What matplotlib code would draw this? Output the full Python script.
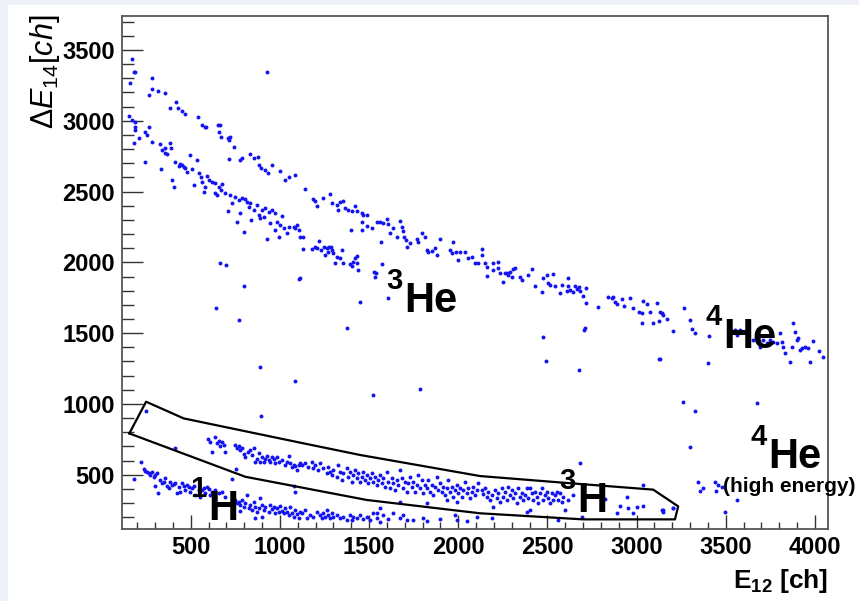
import numpy as np
import matplotlib.pyplot as plt
from matplotlib.patches import Rectangle

plt.rcParams['font.family'] = 'Liberation Sans'
plt.rcParams['mathtext.fontset'] = 'custom'
plt.rcParams['mathtext.rm'] = 'Liberation Sans'
plt.rcParams['mathtext.it'] = 'Liberation Sans:italic'
plt.rcParams['mathtext.bf'] = 'Liberation Sans:bold'

# E12 / dE14 pairs, in channels
he4_band = np.array([
    (171, 3433), (180, 3346), (190, 3342), (162, 3264), (283, 3304), (264, 3182), (283, 3222),
    (317, 3210), (354, 3193), (420, 3135), (386, 3087), (429, 3087), (451, 3069), (470, 3047),
    (541, 3024), (563, 2970), (578, 2953), (586, 2958), (651, 2970), (666, 2970), (657, 2923),
    (672, 2887), (709, 2876), (722, 2887), (713, 2864), (743, 2812), (713, 2732), (778, 2723),
    (787, 2734), (830, 2765), (853, 2734), (877, 2746), (885, 2687), (896, 2664), (918, 2652),
    (933, 2628), (956, 2685), (1002, 2645), (1030, 2581), (1053, 2600), (1083, 2617),
    (1141, 2516), (1188, 2446), (1197, 2436), (1210, 2399), (1244, 2453), (1281, 2483),
    (1290, 2417), (1318, 2406), (1328, 2370), (1337, 2429), (1352, 2436), (1365, 2382),
    (1384, 2370), (1403, 2366), (1421, 2399), (1431, 2366), (1459, 2351), (1468, 2335),
    (1487, 2335), (1459, 2288), (1487, 2257), (1515, 2241), (1543, 2288), (1561, 2288),
    (1580, 2281), (1599, 2304), (1608, 2271), (1617, 2210), (1636, 2241), (1673, 2295),
    (1683, 2253), (1688, 2224), (1696, 2177), (1655, 2182), (1707, 2158), (1715, 2111),
    (1729, 2140), (1767, 2163), (1776, 2147), (1795, 2210), (1814, 2177), (1832, 2076),
    (1823, 2088), (1851, 2083), (1870, 2100), (1879, 2052), (1898, 2163), (1954, 2088),
    (1963, 2064), (1972, 2147), (1987, 2076), (2000, 2017), (2010, 2076), (2038, 2076),
    (2056, 2029), (2075, 2041), (2094, 1994), (2112, 1998),
    (2131, 2092), (2131, 2052), (2150, 1994), (2159, 1965), (2163, 1904), (2197, 1994),
    (2197, 1947), (2225, 2005), (2225, 1958), (2234, 1928), (2253, 1864), (2262, 1923),
    (2271, 1928), (2281, 1911), (2290, 1935), (2299, 1899), (2309, 1951), (2318, 1958),
    (2346, 1899), (2356, 1876), (2393, 1911), (2412, 1951), (2430, 1834), (2468, 1793),
    (2477, 1888), (2496, 1911), (2505, 1852), (2514, 1841), (2533, 1918), (2542, 1834),
    (2570, 1786), (2580, 1841), (2608, 1801), (2617, 1888), (2617, 1834), (2626, 1805),
    (2645, 1793), (2654, 1834), (2664, 1810), (2679, 1824), (2682, 1801), (2701, 1763),
    (2716, 1817), (2716, 1716), (2785, 1683), (2841, 1758), (2860, 1746), (2869, 1758),
    (2879, 1723), (2888, 1706), (2916, 1739), (2929, 1692), (2963, 1746), (2981, 1676),
    (3015, 1652), (3028, 1645), (3037, 1730), (3056, 1706), (3075, 1652), (3112, 1716),
    (3028, 1575), (3090, 1575), (3127, 1589),
    (3131, 1651), (3140, 1640), (3150, 1628), (3172, 1597), (3202, 1517), (3266, 1675),
    (3299, 1593), (3308, 1527), (3327, 1498), (3407, 1480), (3551, 1522), (3561, 1487),
    (3691, 1404), (3710, 1451), (3729, 1428), (3747, 1451), (3766, 1440), (3785, 1428),
    (3803, 1498), (3813, 1440), (3822, 1404), (3831, 1362), (3860, 1298), (3869, 1404),
    (3878, 1574), (3888, 1510), (3897, 1451), (3906, 1463), (3916, 1381), (3925, 1392),
    (3944, 1404), (3962, 1392), (3972, 1298), (3990, 1447), (4024, 1376), (4046, 1334),
    (3654, 1451), (3617, 1487), (3579, 1522),
])

he3_band = np.array([
    (156, 3033), (171, 3005), (186, 2993), (190, 2953), (186, 2934), (180, 2845), (208, 2880),
    (242, 2923), (255, 2899), (264, 2958), (283, 2852), (242, 2711), (330, 2836), (339, 2793),
    (354, 2805), (358, 2774), (367, 2765), (386, 2845), (391, 2805), (335, 2657), (395, 2581),
    (405, 2530), (414, 2706), (433, 2680), (442, 2694), (451, 2687), (461, 2675), (470, 2664),
    (479, 2640), (494, 2758), (507, 2657), (517, 2546), (535, 2723), (545, 2628), (560, 2605),
    (563, 2570), (573, 2499), (582, 2534), (591, 2610), (604, 2581), (619, 2570), (634, 2558),
    (638, 2492), (647, 2475), (657, 2534), (675, 2553), (672, 2511), (694, 2487), (709, 2365),
    (722, 2475), (731, 2417), (750, 2464), (759, 2287), (769, 2440), (778, 2346), (787, 2452),
    (797, 2216), (806, 2445), (816, 2428), (825, 2393), (834, 2417), (840, 2299), (853, 2370),
    (872, 2405), (881, 2334), (890, 2311), (900, 2370), (909, 2322), (918, 2381), (928, 2162),
    (937, 2358), (946, 2275), (956, 2370), (974, 2346), (984, 2287), (974, 2228), (993, 2181),
    (1002, 2264), (1012, 2327), (1021, 2240), (1040, 2205), (1049, 2252), (1077, 2252),
    (1086, 2240), (1096, 2264), (1105, 2228), (1114, 2181),
    (1128, 2177), (1132, 2093), (1178, 2093), (1197, 2111), (1206, 2100), (1221, 2154),
    (1229, 2088), (1247, 2111), (1253, 2052), (1262, 2100), (1272, 2076), (1277, 2111),
    (1285, 2111), (1290, 2088), (1300, 2064), (1309, 1994), (1322, 2036), (1337, 2029),
    (1347, 2088), (1356, 1994), (1393, 1989), (1403, 1975), (1412, 2005), (1421, 2029),
    (1431, 2045), (1431, 1994), (1440, 1947), (1528, 1935), (1533, 1900), (1539, 1923),
    (1571, 1989), (1565, 2147), (1397, 2229), (1459, 2229),
])

h3_band = np.array([
    (250, 952), (410, 686), (896, 915), (1086, 1164),
    (597, 750), (610, 734), (619, 663), (638, 764), (647, 722), (657, 741), (666, 703),
    (675, 734), (685, 710), (694, 663), (750, 710), (759, 686), (769, 703), (778, 675),
    (787, 686), (797, 646), (806, 623), (821, 663), (834, 675), (844, 639), (853, 686),
    (862, 592), (872, 609), (881, 651), (890, 592), (900, 628), (909, 592), (918, 609),
    (928, 632), (937, 604), (946, 592), (956, 628), (965, 609), (974, 585), (984, 623),
    (993, 592), (1012, 604), (1030, 569), (1040, 592), (1049, 632), (1058, 580), (1068, 552),
    (1077, 569), (1086, 562), (1096, 533), (1105, 569), (1114, 580), (754, 538),
    (1122, 569), (1141, 581), (1160, 557), (1178, 593), (1188, 545), (1197, 569), (1216, 534),
    (1225, 581), (1244, 545), (1262, 510), (1272, 557), (1281, 522), (1290, 498), (1300, 534),
    (1318, 487), (1328, 569), (1337, 522), (1347, 463), (1356, 510), (1375, 545), (1384, 487),
    (1393, 522), (1403, 451), (1412, 498), (1421, 534), (1431, 475), (1440, 510), (1449, 451),
    (1459, 487), (1468, 522), (1477, 463), (1487, 498), (1496, 440), (1505, 475), (1515, 510),
    (1524, 451), (1533, 487), (1543, 428), (1552, 463), (1561, 498), (1571, 440), (1580, 475),
    (1589, 416), (1599, 522), (1608, 451), (1617, 404), (1627, 475), (1636, 440), (1645, 392),
    (1655, 463), (1664, 428), (1673, 534), (1683, 475), (1692, 404), (1701, 451), (1711, 381),
    (1720, 440), (1729, 487), (1739, 416), (1748, 451), (1757, 381), (1767, 428), (1776, 498),
    (1785, 404), (1795, 463), (1804, 369), (1814, 428), (1823, 404), (1832, 463), (1842, 381),
    (1851, 428), (1860, 357), (1870, 416), (1879, 487), (1888, 392), (1898, 440), (1907, 381),
    (1916, 416), (1926, 357), (1935, 404), (1944, 463), (1954, 381), (1963, 416), (1972, 345),
    (1982, 392), (1991, 428), (2000, 369), (2010, 404), (2019, 345), (2028, 392), (2038, 451),
    (2047, 369), (2056, 404), (2066, 334), (2075, 381), (2084, 416), (2094, 357), (2103, 392),
    (2112, 440),
    (2131, 392), (2141, 364), (2150, 404), (2159, 345), (2169, 381), (2178, 322), (2187, 357),
    (2197, 275), (2206, 392), (2215, 334), (2225, 369), (2234, 310), (2243, 404), (2253, 345),
    (2262, 381), (2271, 322), (2281, 411), (2290, 357), (2299, 392), (2309, 334), (2318, 369),
    (2327, 298), (2337, 404), (2346, 345), (2356, 369), (2365, 322), (2374, 357), (2384, 404),
    (2393, 334), (2402, 404), (2412, 369), (2421, 322), (2430, 381), (2440, 345), (2449, 298),
    (2458, 369), (2468, 404), (2477, 322), (2486, 357), (2496, 381), (2505, 334), (2514, 298),
    (2524, 369), (2533, 322), (2542, 357), (2552, 381), (2561, 322), (2570, 369), (2580, 310),
    (2589, 345), (2598, 251), (2617, 322), (2645, 357), (2682, 585), (2692, 204), (2822, 326),
    (2888, 232), (2907, 279), (2944, 345), (2953, 263), (2981, 228), (3000, 275), (3037, 428),
    (3037, 279), (3140, 251), (3149, 239), (3205, 263), (2384, 239), (2402, 251),
    (3206, 263), (3146, 251),
])

h1_band = np.array([
    (180, 468), (223, 592), (236, 538), (246, 529), (255, 522), (264, 510), (274, 498),
    (283, 522), (292, 486), (302, 498), (311, 510), (302, 420), (317, 373), (330, 463),
    (339, 439), (349, 451), (358, 475), (367, 420), (377, 404), (386, 451), (395, 427),
    (405, 435), (414, 444), (423, 369), (433, 416), (442, 380), (451, 439), (461, 420),
    (470, 392), (479, 427), (489, 416), (498, 380), (507, 404), (517, 420), (526, 357),
    (545, 392), (554, 345), (563, 392), (573, 404), (582, 369), (591, 416), (601, 397),
    (610, 357), (619, 380), (638, 392), (657, 369), (675, 380), (694, 345), (731, 468),
    (750, 322), (759, 298), (769, 310), (778, 286), (787, 322), (797, 274), (806, 298),
    (816, 357), (825, 263), (834, 286), (844, 251), (853, 310), (862, 274), (872, 239),
    (881, 263), (890, 333), (900, 286), (909, 251), (918, 274), (937, 239), (946, 286),
    (956, 256), (965, 274), (974, 227), (984, 263), (993, 239), (1002, 279), (1012, 246),
    (1021, 227), (1030, 263), (1040, 239), (1049, 216), (1058, 274), (1068, 232), (1077, 204),
    (1086, 251), (1096, 223), (1105, 192), (1114, 239), (900, 204), (862, 192), (778, 246),
    (1086, 380), (1077, 420),
    (1561, 263), (1543, 228), (1673, 310), (1823, 298), (1935, 322), (1991, 310),
    (1122, 228), (1141, 251), (1150, 192), (1169, 216), (1188, 204), (1206, 239), (1225, 216),
    (1234, 192), (1244, 228), (1253, 204), (1262, 251), (1272, 216), (1281, 192), (1290, 228),
    (1300, 204), (1318, 216), (1337, 192), (1356, 204), (1375, 181), (1393, 216), (1403, 181),
    (1412, 204), (1431, 192), (1449, 216), (1468, 185), (1487, 204), (1505, 181), (1524, 228),
    (1543, 192), (1561, 169), (1580, 216), (1608, 185), (1636, 228), (1673, 192), (1692, 216),
    (1711, 181), (1748, 181), (1804, 192), (1823, 176), (1898, 185), (1982, 216), (1991, 181),
    (2047, 176), (2103, 204), (2187, 192), (2561, 181),
])

# isolated events off the bands
scattered = np.array([
    (928, 3342), (662, 1998), (700, 1979), (1113, 1888), (1449, 1723), (1608, 1746),
    (1375, 1535), (2473, 1471), (2492, 1306), (2679, 1240), (2705, 1523), (2710, 1535),
    (3127, 1316), (3402, 1287), (3131, 1315), (800, 1832), (640, 1678), (771, 1593),
    (887, 1260), (1109, 1880), (1520, 1061), (1784, 1107),
    (3258, 1016), (3327, 952), (3676, 1009), (3299, 693),
])

he4_high = np.array([
    (3346, 451), (3355, 387), (3374, 404), (3439, 451), (3445, 387), (3458, 427),
    (3477, 416), (3561, 321), (3495, 239),
])

# graphical cut around the tritium band
cut_x = [156, 250, 461, 1113, 1449, 2122, 2589, 3093, 3233, 3215, 2700, 2122, 1487, 806, 156]
cut_y = [792, 1016, 898, 727, 640, 491, 444, 395, 277, 185, 185, 228, 322, 486, 792]

fig = plt.figure(figsize=(8.59, 6.01), dpi=100, facecolor='#eef2f8')
fig.patches.append(Rectangle((8 / 859, 0), 1, 1 - 5 / 601, transform=fig.transFigure,
                             facecolor='white', edgecolor='none', zorder=-1))

ax = fig.add_axes([122 / 859, 1 - 529 / 601, 706 / 859, 513 / 601])
ax.set_xlim(115, 4073)
ax.set_ylim(117, 3740)

for pts in (he4_band, he3_band, h3_band, h1_band, scattered, he4_high):
    ax.scatter(pts[:, 0], pts[:, 1], s=8, c='#1414f0', linewidths=0, zorder=2)

ax.plot(cut_x, cut_y, color='black', lw=1.6, zorder=3)

ax.set_xticks(np.arange(500, 4001, 500))
ax.set_xticks(np.arange(200, 4001, 100), minor=True)
ax.set_yticks(np.arange(500, 3501, 500))
ax.set_yticks(np.arange(200, 3701, 100), minor=True)
ax.tick_params(which='both', direction='in', width=1, color='#333', labelsize=17, pad=5)
ax.tick_params(axis='x', which='major', length=10.3)
ax.tick_params(axis='x', which='minor', length=5.4)
ax.tick_params(axis='y', which='major', length=15)
ax.tick_params(axis='y', which='minor', length=8.5)
for lab in ax.get_xticklabels() + ax.get_yticklabels():
    lab.set_fontweight('bold')
for sp in ax.spines.values():
    sp.set_color('#555')
    sp.set_linewidth(1.3)


def isotope(x, y, mass, sym, size=30):
    ax.text(x, y, sym, fontsize=size, fontweight='bold', ha='left', va='baseline', zorder=4)
    ax.annotate(mass, xy=(x, y), xytext=(-1, size * 0.55), textcoords='offset points',
                fontsize=size * 0.7, fontweight='bold', ha='right', va='baseline', zorder=4)


isotope(1696, 1649, '3', 'He')
isotope(3484, 1395, '4', 'He')
isotope(3736, 545, '4', 'He')
isotope(2665, 237, '3', 'H')
isotope(597, 181, '1', 'H')
ax.text(3484, 378, '(high energy)', fontsize=15, fontweight='bold', ha='left',
        va='baseline', zorder=4, clip_on=False)

fig.text(45 / 859, 1 - 15 / 601, r'$\mathit{\Delta E}_{\mathrm{14}}\mathit{[ch]}$',
         rotation=90, ha='center', va='top', fontsize=22)
fig.text(828 / 859, 1 - 588 / 601, r'$\mathbf{E_{12}\ [ch]}$', ha='right',
         va='baseline', fontsize=19)

fig.savefig('out.png', dpi=100, facecolor=fig.get_facecolor())
